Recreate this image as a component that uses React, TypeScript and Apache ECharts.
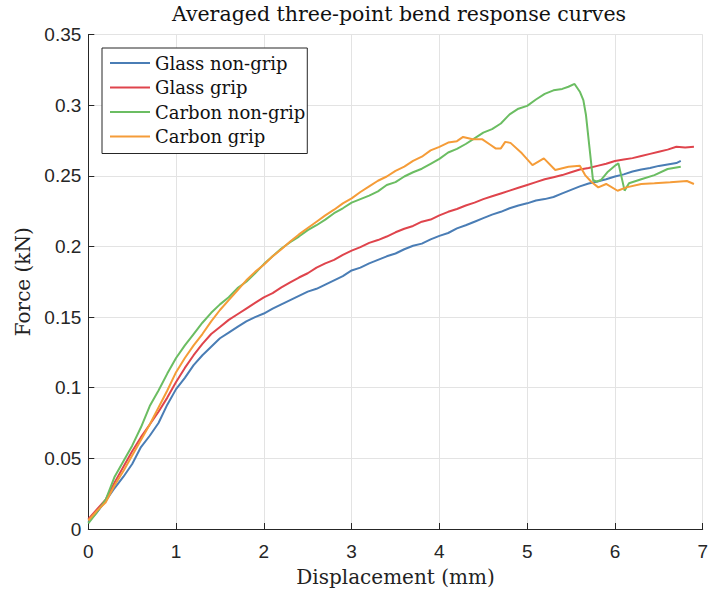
import React, { useEffect, useRef } from "react";
import * as echarts from "echarts";

const titleText = "Averaged three-point bend response curves";
const xName = "Displacement (mm)";
const yName = "Force (kN)";
const seriesNames = ["Glass non-grip", "Glass grip", "Carbon non-grip", "Carbon grip"];
const seriesColors = ["#4a7db5", "#df444c", "#6bbd62", "#f59c38"];

const glassNonGrip: [number, number][] = [
  [0, 0.005], [0.1, 0.012], [0.2, 0.02], [0.3, 0.029], [0.4, 0.037], [0.5, 0.046],
  [0.6, 0.058], [0.7, 0.066], [0.8, 0.075], [0.9, 0.088], [1.0, 0.099], [1.1, 0.107],
  [1.2, 0.116], [1.3, 0.123], [1.4, 0.129], [1.5, 0.135], [1.6, 0.139], [1.7, 0.143],
  [1.8, 0.147], [1.9, 0.15], [2.0, 0.1525], [2.1, 0.156], [2.2, 0.159], [2.3, 0.162],
  [2.4, 0.165], [2.5, 0.168], [2.6, 0.17], [2.7, 0.173], [2.8, 0.176], [2.9, 0.179],
  [3.0, 0.183], [3.1, 0.185], [3.2, 0.188], [3.3, 0.1905], [3.4, 0.193], [3.5, 0.195],
  [3.6, 0.198], [3.7, 0.2005], [3.8, 0.202], [3.9, 0.205], [4.0, 0.2075], [4.1, 0.2095],
  [4.2, 0.2128], [4.3, 0.215], [4.4, 0.2175], [4.5, 0.22], [4.6, 0.2225], [4.7, 0.2245],
  [4.8, 0.227], [4.9, 0.229], [5.0, 0.2305], [5.1, 0.2325], [5.2, 0.2335], [5.3, 0.235],
  [5.4, 0.2375], [5.5, 0.24], [5.6, 0.2425], [5.7, 0.2445], [5.8, 0.246], [5.9, 0.2475],
  [6.0, 0.2495], [6.1, 0.251], [6.2, 0.253], [6.3, 0.2545], [6.4, 0.2555], [6.5, 0.257],
  [6.6, 0.258], [6.7, 0.259], [6.75, 0.2605],
];

const glassGrip: [number, number][] = [
  [0, 0.007], [0.1, 0.014], [0.2, 0.021], [0.3, 0.033], [0.4, 0.044], [0.5, 0.055],
  [0.6, 0.065], [0.7, 0.074], [0.8, 0.083], [0.9, 0.093], [1.0, 0.104], [1.1, 0.114],
  [1.2, 0.123], [1.3, 0.131], [1.4, 0.138], [1.5, 0.143], [1.6, 0.148], [1.7, 0.152],
  [1.8, 0.156], [1.9, 0.16], [2.0, 0.164], [2.1, 0.167], [2.2, 0.171], [2.3, 0.1745],
  [2.4, 0.178], [2.5, 0.181], [2.6, 0.185], [2.7, 0.188], [2.8, 0.1905], [2.9, 0.194],
  [3.0, 0.197], [3.1, 0.1995], [3.2, 0.2025], [3.3, 0.2045], [3.4, 0.207], [3.5, 0.21],
  [3.6, 0.2125], [3.7, 0.2145], [3.8, 0.2175], [3.9, 0.219], [4.0, 0.222], [4.1, 0.2245],
  [4.2, 0.2265], [4.3, 0.229], [4.4, 0.231], [4.5, 0.2335], [4.6, 0.2355], [4.7, 0.2375],
  [4.8, 0.2395], [4.9, 0.2415], [5.0, 0.2435], [5.1, 0.2455], [5.2, 0.2475], [5.3, 0.249],
  [5.4, 0.2505], [5.5, 0.2525], [5.6, 0.2545], [5.7, 0.2555], [5.8, 0.257], [5.9, 0.2585],
  [6.0, 0.2605], [6.1, 0.2615], [6.2, 0.2625], [6.3, 0.264], [6.4, 0.2655], [6.5, 0.267],
  [6.6, 0.2685], [6.7, 0.2705], [6.8, 0.27], [6.9, 0.2705],
];

const carbonNonGrip: [number, number][] = [
  [0, 0.004], [0.1, 0.012], [0.2, 0.021], [0.3, 0.037], [0.4, 0.048], [0.5, 0.059],
  [0.6, 0.072], [0.7, 0.087], [0.8, 0.098], [0.9, 0.11], [1.0, 0.121], [1.1, 0.13],
  [1.2, 0.138], [1.3, 0.146], [1.4, 0.153], [1.5, 0.159], [1.6, 0.164], [1.7, 0.1705],
  [1.8, 0.175], [1.9, 0.181], [2.0, 0.1875], [2.1, 0.193], [2.2, 0.1985], [2.3, 0.203],
  [2.4, 0.207], [2.5, 0.2115], [2.6, 0.215], [2.7, 0.219], [2.8, 0.2235], [2.9, 0.227],
  [3.0, 0.231], [3.1, 0.2335], [3.2, 0.236], [3.3, 0.239], [3.4, 0.2435], [3.5, 0.2455],
  [3.6, 0.2495], [3.7, 0.2525], [3.8, 0.255], [3.9, 0.2585], [4.0, 0.262], [4.1, 0.2665],
  [4.2, 0.269], [4.3, 0.2725], [4.4, 0.2765], [4.5, 0.2805], [4.6, 0.283], [4.7, 0.287],
  [4.8, 0.2935], [4.9, 0.2975], [5.0, 0.2995], [5.1, 0.304], [5.2, 0.308], [5.3, 0.3105],
  [5.4, 0.3115], [5.47, 0.313], [5.54, 0.315], [5.6, 0.3095], [5.64, 0.3036], [5.67, 0.293],
  [5.71, 0.27], [5.75, 0.247], [5.79, 0.2458], [5.84, 0.247], [5.92, 0.2529], [6.01, 0.2576],
  [6.04, 0.2588], [6.11, 0.2395], [6.16, 0.2447], [6.3, 0.2475], [6.45, 0.2505], [6.6, 0.2548],
  [6.75, 0.2564],
];

const carbonGrip: [number, number][] = [
  [0, 0.006], [0.1, 0.013], [0.2, 0.019], [0.3, 0.031], [0.4, 0.041], [0.5, 0.052],
  [0.6, 0.063], [0.7, 0.074], [0.8, 0.086], [0.9, 0.098], [1.0, 0.111], [1.1, 0.121],
  [1.2, 0.13], [1.3, 0.138], [1.4, 0.147], [1.5, 0.155], [1.6, 0.162], [1.7, 0.169],
  [1.8, 0.176], [1.9, 0.182], [2.0, 0.187], [2.1, 0.193], [2.2, 0.198], [2.3, 0.2035],
  [2.4, 0.2085], [2.5, 0.213], [2.6, 0.2175], [2.7, 0.222], [2.8, 0.226], [2.9, 0.2305],
  [3.0, 0.234], [3.1, 0.2385], [3.2, 0.2425], [3.3, 0.2465], [3.4, 0.2495], [3.5, 0.2535],
  [3.6, 0.2565], [3.7, 0.2605], [3.8, 0.2635], [3.9, 0.268], [4.0, 0.2705], [4.1, 0.2735],
  [4.2, 0.2745], [4.27, 0.2775], [4.38, 0.2758], [4.49, 0.2758], [4.58, 0.272], [4.64, 0.2694],
  [4.7, 0.2694], [4.75, 0.274], [4.81, 0.2733], [4.94, 0.2659], [5.06, 0.2576], [5.19, 0.2623],
  [5.32, 0.2541], [5.47, 0.2564], [5.6, 0.2571], [5.66, 0.2505], [5.73, 0.2458], [5.81, 0.2418],
  [5.9, 0.2442], [6.03, 0.2394], [6.13, 0.2418], [6.3, 0.2442], [6.45, 0.2447], [6.63, 0.2454],
  [6.82, 0.2463], [6.9, 0.2442],
];

const allSeries = [glassNonGrip, glassGrip, carbonNonGrip, carbonGrip];

const serif = "DejaVu Serif";
const sans = "Liberation Sans";
const axisColor = "#262626";

export default function App() {
  const ref = useRef<HTMLDivElement>(null);
  useEffect(() => {
    if (!ref.current) return;
    const chart = echarts.init(ref.current, undefined, { renderer: "svg" });
    chart.setOption({
      animation: false,
      backgroundColor: "#ffffff",
      graphic: [
        {
          type: "text",
          x: 399,
          y: 14,
          style: {
            text: titleText,
            fontFamily: serif,
            fontSize: 20.5,
            fill: "#111111",
            textAlign: "center",
            textVerticalAlign: "middle",
          },
        },
      ],
      legend: {
        orient: "vertical",
        left: 102,
        top: 48,
        padding: [6, 2, 8, 8],
        icon: "rect",
        itemWidth: 40,
        itemHeight: 2,
        itemGap: 6.5,
        backgroundColor: "#ffffff",
        borderColor: axisColor,
        borderWidth: 1,
        borderRadius: 0,
        textStyle: { fontFamily: serif, fontSize: 18, color: "#111111", lineHeight: 18 },
        data: seriesNames,
      },
      grid: { left: 88.3, right: 1.8, top: 34.5, bottom: 64, containLabel: false },
      xAxis: {
        type: "value",
        min: 0,
        max: 7,
        interval: 1,
        name: xName,
        nameLocation: "middle",
        nameGap: 38,
        nameTextStyle: { fontFamily: serif, fontSize: 20, color: "#222222" },
        axisLine: { show: true, lineStyle: { color: axisColor, width: 1 } },
        axisTick: { show: true, inside: true, length: 6, lineStyle: { color: axisColor } },
        axisLabel: { fontFamily: sans, fontSize: 19, color: axisColor, margin: 13 },
        splitLine: { show: true, lineStyle: { color: "#e3e3e3", width: 1 } },
      },
      yAxis: {
        type: "value",
        min: 0,
        max: 0.35,
        interval: 0.05,
        name: yName,
        nameLocation: "middle",
        nameRotate: 90,
        nameGap: 53,
        nameTextStyle: { fontFamily: serif, fontSize: 20, color: "#222222" },
        axisLine: { show: true, lineStyle: { color: axisColor, width: 1 } },
        axisTick: { show: true, inside: true, length: 6, lineStyle: { color: axisColor } },
        axisLabel: { fontFamily: sans, fontSize: 19, color: axisColor, margin: 7 },
        splitLine: { show: true, lineStyle: { color: "#e3e3e3", width: 1 } },
      },
      series: allSeries.map((d, i) => ({
        name: seriesNames[i],
        type: "line",
        data: d,
        symbol: "none",
        showSymbol: false,
        smooth: false,
        color: seriesColors[i],
        lineStyle: { color: seriesColors[i], width: 2 },
      })),
    });
    return () => chart.dispose();
  }, []);
  return (
    <div
      ref={ref}
      style={{ position: "fixed", left: 0, top: 0, width: 711, height: 593, background: "#fff" }}
    />
  );
}
